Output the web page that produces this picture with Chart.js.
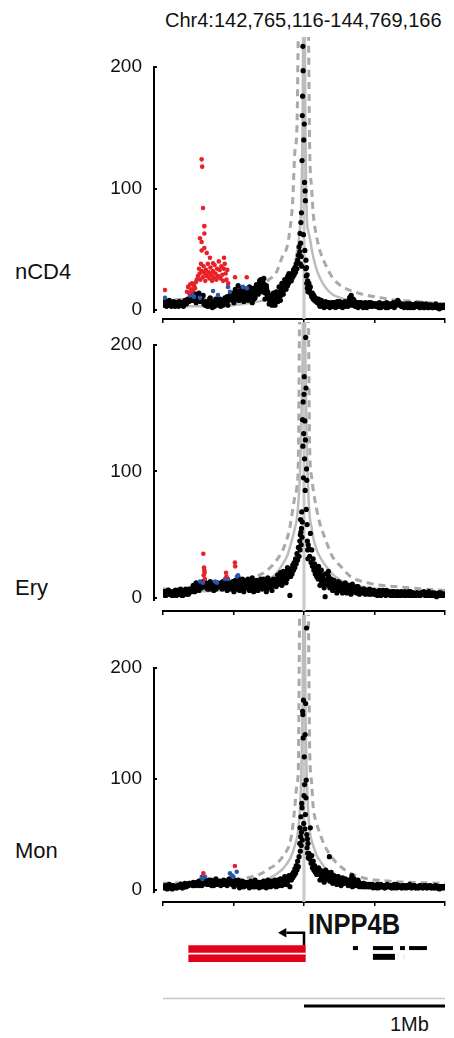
<!DOCTYPE html>
<html>
<head>
<meta charset="utf-8">
<title>INPP4B capture-C profiles</title>
<script src="https://cdn.jsdelivr.net/npm/chart.js@4.4.1/dist/chart.umd.min.js"></script>
<style>
  html, body { margin: 0; padding: 0; background: #fff; }
  body {
    width: 454px; height: 1038px; position: relative; overflow: hidden;
    font-family: "Liberation Sans", Arial, sans-serif; color: #111;
  }
  canvas { position: absolute; left: 0; }
  .txt { position: absolute; white-space: nowrap; line-height: 1; }
</style>
</head>
<body>

<div class="txt" style="left:165px; top:10px; font-size:20px;">Chr4:142,765,116-144,769,166</div>
<div class="txt" style="left:15px; top:261px; font-size:22px;">nCD4</div>
<div class="txt" style="left:15px; top:577px; font-size:22px;">Ery</div>
<div class="txt" style="left:15px; top:840px; font-size:22px;">Mon</div>
<div class="txt" style="left:308px; top:909px; font-size:30px; font-weight:bold; transform:scaleX(0.85); transform-origin:left top;">INPP4B</div>
<div class="txt" style="left:390px; top:1014px; font-size:20px;">1Mb</div>

<canvas id="panel-ncd4" width="454" height="329" style="top:0px"></canvas>
<canvas id="panel-ery" width="454" height="309" style="top:312px"></canvas>
<canvas id="panel-mon" width="454" height="307" style="top:605px"></canvas>
<canvas id="gene-track" width="454" height="133" style="top:905px"></canvas>

<script>
// ---- data (kb relative to the INPP4B viewpoint) ----
const yTickValues = [0, 100, 200];
const xTickStepKb = 500;

// restriction fragment positions shared by all three cell types
const fragmentKb = [
  -1000, -990, -980, -970, -960, -950, -940, -930, -920, -910,
  -900, -890, -880, -870, -860, -850, -840, -830, -820, -810,
  -800, -790, -780, -770, -760, -750, -740, -730, -720, -710,
  -700, -690, -680, -670, -660, -650, -640, -630, -620, -610,
  -600, -590, -580, -570, -560, -550, -540, -530, -520, -510,
  -500, -490, -480, -470, -460, -450, -440, -430, -420, -410,
  -400, -390, -380, -370, -360, -350, -340, -330, -320, -310,
  -300, -290, -280, -270, -260, -250, -240, -230, -220, -210,
  -200, -190, -180, -170, -160, -150, -140, -130, -120, -110,
  -100, -95, -90, -85, -80, -75, -70, -65, -60, -55, -50, -45, -40, -35,
  -30, -28, -26, -24, -22, -20, -18, -16, -14, -12, -10, -8, -6, -4, -2, 0,
  2, 4, 6, 8, 10, 12, 14, 16, 18, 20, 22, 24, 26, 28, 30,
  35, 40, 45, 50, 55, 60, 65, 70, 75, 80, 85, 90, 95, 100,
  110, 120, 130, 140, 150, 160, 170, 180, 190, 200,
  210, 220, 230, 240, 250, 260, 270, 280, 290, 300,
  310, 320, 330, 340, 350, 360, 370, 380, 390, 400,
  410, 420, 430, 440, 450, 460, 470, 480, 490, 500,
  510, 520, 530, 540, 550, 560, 570, 580, 590, 600,
  610, 620, 630, 640, 650, 660, 670, 680, 690, 700,
  710, 720, 730, 740, 750, 760, 770, 780, 790, 800,
  810, 820, 830, 840, 850, 860, 870, 880, 890, 900,
  910, 920, 930, 940, 950, 960, 970, 980, 990, 1000
];

// second set of fragments in the flanks (between the ones above)
const fragmentKbB = [
  -995, -985, -975, -965, -955, -945, -935, -925, -915, -905,
  -895, -885, -875, -865, -855, -845, -835, -825, -815, -805,
  -795, -785, -775, -765, -755, -745, -735, -725, -715, -705,
  -695, -685, -675, -665, -655, -645, -635, -625, -615, -605,
  -595, -585, -575, -565, -555, -545, -535, -525, -515, -505,
  -495, -485, -475, -465, -455, -445, -435, -425, -415, -405,
  -395, -385, -375, -365, -355, -345, -335, -325, -315, -305,
  -295, -285, -275, -265, -255, -245, -235, -225, -215, -205,
  -195, -185, -175, -165, -155, -145, -135, -125, -115, -105,
  105, 115, 125, 135, 145, 155, 165, 175, 185, 195,
  205, 215, 225, 235, 245, 255, 265, 275, 285, 295,
  305, 315, 325, 335, 345, 355, 365, 375, 385, 395,
  405, 415, 425, 435, 445, 455, 465, 475, 485, 495,
  505, 515, 525, 535, 545, 555, 565, 575, 585, 595,
  605, 615, 625, 635, 645, 655, 665, 675, 685, 695,
  705, 715, 725, 735, 745, 755, 765, 775, 785, 795,
  805, 815, 825, 835, 845, 855, 865, 875, 885, 895,
  905, 915, 925, 935, 945, 955, 965, 975, 985, 995
];

// third set, only in the denser region on either side of the peak
const fragmentKbC = [
  -497, -487, -477, -467, -457, -447, -437, -427, -417, -407,
  -397, -387, -377, -367, -357, -347, -337, -327, -317, -307,
  -297, -287, -277, -267, -257, -247, -237, -227, -217, -207,
  -197, -187, -177, -167, -157, -147, -137, -127, -117, -107,
  103, 113, 123, 133, 143, 153, 163, 173, 183, 193,
  203, 213, 223, 233, 243, 253, 263, 273, 283, 293,
  303, 313, 323, 333, 343, 353, 363, 373, 383, 393
];

const nCD4Counts = [
  6, 5, 7, 4, 6, 5, 3, 5, 4, 5,
  4, 3, 5, 4, 6, 5, 7, 6, 8, 9,
  10, 12, 8, 11, 13, 9, 12, 10, 7, 5,
  4, 6, 3, 9, 5, 2, 7, 4, 8, 5,
  6, 3, 8, 5, 10, 7, 4, 9, 12, 8,
  11, 13, 9, 14, 10, 12, 15, 11, 13, 10,
  12, 14, 10, 13, 16, 11, 15, 18, 20, 22,
  24, 19, 21, 16, 12, 9, 7, 10, 6, 8,
  9, 12, 10, 14, 17, 20, 18, 23, 26, 22,
  25, 28, 24, 30, 27, 33, 29, 35, 31, 38, 34, 41, 45, 52,
  48, 63, 38, 55, 72, 44, 80, 36, 123, 160, 176, 217, 197, 62, 140, 240,
  153, 105, 49, 98, 90, 34, 41, 28, 35, 22, 29, 18, 24, 15, 20,
  22, 16, 19, 13, 11, 14, 9, 12, 8, 10, 7, 9, 6, 8,
  5, 6, 4, 5, 4, 3, 5, 4, 5, 6,
  4, 5, 3, 4, 6, 3, 4, 5, 7, 4,
  6, 8, 11, 7, 9, 5, 4, 6, 3, 5,
  4, 2, 5, 3, 4, 6, 3, 3, 5, 4,
  3, 5, 2, 4, 3, 5, 4, 2, 3, 5,
  4, 3, 5, 2, 4, 6, 7, 4, 3, 5,
  2, 4, 3, 5, 2, 3, 4, 2, 5, 3,
  4, 2, 3, 5, 2, 4, 3, 2, 4, 3,
  2, 3, 4, 2, 3, 1, 3, 2, 4, 2
];
const nCD4CountsB = [
  4, 7, 3, 6, 8, 4, 5, 7, 3, 6,
  5, 7, 4, 6, 3, 8, 5, 9, 7, 11,
  8, 14, 11, 6, 10, 14, 7, 9, 12, 6,
  7, 3, 5, 10, 4, 6, 3, 9, 6, 4,
  9, 5, 4, 7, 6, 11, 8, 12, 10, 14,
  9, 15, 12, 8, 16, 13, 9, 12, 17, 14,
  15, 11, 16, 12, 9, 14, 17, 13, 24, 18,
  20, 26, 14, 18, 10, 12, 5, 8, 11, 4,
  11, 7, 15, 12, 19, 16, 22, 20, 28, 24,
  7, 4, 6, 3, 6, 5, 3, 6, 4, 3,
  6, 3, 5, 7, 4, 5, 3, 6, 4, 5,
  4, 7, 9, 12, 6, 8, 6, 3, 5, 4,
  6, 3, 4, 6, 2, 5, 4, 6, 3, 5,
  5, 3, 4, 6, 2, 4, 5, 3, 6, 2,
  3, 5, 4, 6, 3, 5, 8, 6, 4, 3,
  4, 3, 5, 2, 4, 5, 2, 4, 3, 5,
  3, 5, 2, 4, 3, 2, 5, 4, 2, 4,
  4, 2, 3, 5, 2, 3, 4, 2, 3, 3
];
const nCD4CountsC = [
  6, 17, 10, 20, 8, 15, 18, 7, 16, 12,
  8, 19, 13, 6, 18, 10, 21, 14, 17, 25,
  15, 22, 9, 20, 15, 5, 12, 4, 14, 9,
  15, 10, 19, 8, 22, 13, 25, 17, 20, 30,
  9, 3, 8, 5, 2, 7, 4, 6, 2, 5,
  3, 6, 2, 5, 3, 7, 5, 2, 6, 3,
  5, 3, 10, 9, 4, 7, 3, 5, 2, 6
];

const eryCounts = [
  3, 5, 2, 4, 6, 3, 4, 2, 5, 3,
  4, 6, 3, 5, 2, 4, 7, 5, 3, 6,
  5, 8, 6, 9, 7, 10, 8, 11, 9, 12,
  10, 8, 11, 7, 12, 9, 6, 10, 8, 11,
  9, 12, 7, 10, 8, 11, 13, 9, 7, 10,
  12, 8, 11, 9, 13, 10, 7, 12, 9, 11,
  10, 13, 8, 11, 9, 12, 10, 7, 11, 9,
  12, 9, 11, 8, 13, 10, 12, 9, 11, 14,
  12, 15, 11, 14, 17, 13, 16, 19, 15, 18,
  2, 17, 23, 19, 26, 22, 28, 24, 31, 27, 35, 30, 40, 33,
  45, 38, 50, 62, 52, 42, 55, 68, 48, 60, 141, 120, 155, 95, 130, 161,
  175, 110, 140, 85, 125, 206, 166, 70, 102, 93, 58, 45, 38, 31, 42,
  39, 33, 51, 28, 38, 25, 31, 22, 27, 19, 24, 17, 21, 15,
  20, 14, 18, 12, 1, 11, 15, 10, 13, 9,
  12, 8, 11, 7, 10, 9, 6, 10, 7, 9,
  6, 8, 5, 9, 7, 6, 8, 5, 7, 6,
  5, 7, 4, 6, 5, 3, 6, 4, 5, 3,
  4, 2, 5, 3, 4, 6, 3, 2, 4, 5,
  3, 4, 2, 5, 3, 4, 2, 3, 5, 3,
  2, 4, 3, 5, 2, 3, 4, 2, 3, 4,
  3, 2, 4, 3, 5, 2, 3, 4, 2, 3,
  4, 2, 3, 1, 3, 2, 4, 2, 3, 2
];
const eryCountsB = [
  5, 2, 4, 6, 3, 5, 2, 4, 6, 2,
  3, 5, 7, 2, 5, 6, 3, 4, 7, 5,
  7, 10, 5, 12, 9, 6, 11, 8, 13, 9,
  12, 7, 9, 13, 8, 11, 9, 7, 12, 10,
  11, 8, 13, 9, 12, 6, 10, 12, 9, 13,
  9, 13, 7, 10, 12, 8, 11, 14, 10, 8,
  12, 9, 14, 10, 7, 13, 11, 9, 13, 12,
  10, 13, 8, 12, 10, 14, 9, 13, 10, 12,
  14, 11, 17, 13, 15, 18, 14, 21, 17, 22,
  17, 22, 13, 16, 10, 14, 12, 17, 11, 14,
  10, 13, 8, 11, 6, 12, 8, 7, 11, 6,
  9, 5, 7, 10, 5, 8, 6, 9, 4, 7,
  6, 4, 7, 3, 6, 5, 7, 3, 5, 6,
  3, 5, 4, 6, 2, 4, 5, 3, 6, 3,
  4, 2, 5, 3, 4, 2, 5, 4, 2, 4,
  3, 5, 2, 4, 3, 5, 2, 4, 3, 2,
  4, 3, 2, 4, 3, 4, 2, 3, 5, 2,
  2, 3, 4, 2, 3, 4, 2, 3, 2, 3
];
const eryCountsC = [
  5, 14, 9, 16, 6, 11, 15, 5, 13, 8,
  15, 6, 12, 16, 5, 10, 14, 6, 9, 15,
  7, 15, 10, 5, 16, 8, 13, 6, 15, 10,
  9, 18, 13, 20, 10, 21, 16, 12, 24, 20,
  25, 10, 22, 16, 8, 19, 12, 21, 8, 15,
  6, 14, 10, 4, 13, 7, 11, 4, 8, 12,
  4, 10, 7, 3, 11, 5, 8, 4, 9, 3
];

const monCounts = [
  3, 2, 4, 1, 3, 2, 4, 3, 2, 3,
  2, 4, 3, 5, 2, 4, 3, 5, 4, 6,
  5, 4, 6, 5, 7, 4, 8, 6, 5, 7,
  6, 8, 5, 7, 9, 6, 4, 7, 5, 8,
  6, 4, 7, 9, 5, 8, 6, 10, 7, 5,
  7, 9, 5, 6, 4, 7, 5, 3, 6, 4,
  5, 3, 6, 4, 7, 5, 3, 6, 4, 5,
  4, 6, 3, 5, 7, 4, 6, 5, 8, 6,
  5, 7, 4, 6, 8, 5, 9, 7, 6, 10,
  3, 12, 9, 14, 11, 16, 13, 19, 15, 22, 18, 26, 21, 30,
  42, 56, 35, 48, 66, 40, 52, 78, 74, 45, 161, 158, 137, 171, 60, 85,
  120, 95, 55, 140, 68, 168, 83, 99, 236, 50, 38, 46, 33, 42, 29,
  33, 28, 56, 24, 31, 20, 26, 18, 22, 16, 20, 14, 18, 15,
  17, 13, 16, 11, 15, 12, 14, 30, 10, 12,
  9, 11, 8, 12, 7, 10, 8, 6, 9, 7,
  6, 8, 5, 13, 7, 5, 6, 4, 7, 5,
  4, 6, 3, 5, 4, 3, 5, 4, 2, 4,
  3, 5, 2, 4, 3, 4, 2, 3, 5, 3,
  4, 2, 3, 5, 3, 2, 4, 3, 2, 4,
  3, 4, 2, 3, 5, 2, 3, 4, 2, 3,
  2, 4, 3, 2, 4, 3, 2, 3, 4, 2,
  3, 2, 4, 2, 3, 1, 3, 2, 3, 2
];
const monCountsB = [
  2, 4, 3, 2, 5, 3, 1, 4, 3, 2,
  4, 3, 5, 2, 4, 6, 3, 4, 6, 5,
  6, 7, 4, 6, 5, 8, 6, 4, 7, 9,
  7, 5, 9, 6, 4, 8, 7, 10, 6, 7,
  8, 6, 5, 8, 7, 4, 9, 6, 8, 7,
  5, 8, 6, 4, 7, 6, 4, 7, 5, 6,
  4, 6, 5, 7, 3, 6, 5, 4, 7, 4,
  6, 4, 7, 5, 4, 6, 8, 4, 6, 7,
  7, 4, 8, 6, 5, 9, 6, 8, 11, 9,
  14, 18, 12, 15, 9, 13, 16, 11, 14, 10,
  12, 8, 10, 7, 11, 6, 9, 10, 7, 8,
  7, 5, 9, 6, 8, 10, 5, 7, 5, 6,
  5, 3, 6, 4, 3, 5, 3, 4, 5, 3,
  4, 2, 4, 3, 5, 3, 4, 2, 4, 3,
  3, 4, 2, 4, 2, 5, 3, 4, 3, 2,
  4, 2, 3, 4, 3, 4, 2, 3, 4, 2,
  3, 2, 4, 3, 2, 3, 4, 2, 3, 4,
  2, 3, 2, 4, 2, 3, 2, 3, 2, 3
];
const monCountsC = [
  3, 8, 5, 9, 2, 6, 8, 3, 7, 5,
  7, 2, 8, 5, 3, 9, 4, 7, 2, 6,
  3, 8, 5, 2, 9, 6, 3, 7, 4, 9,
  3, 9, 6, 10, 4, 7, 12, 5, 8, 13,
  20, 9, 17, 13, 7, 18, 10, 15, 8, 16,
  6, 13, 9, 5, 12, 8, 4, 11, 6, 10,
  9, 4, 7, 10, 3, 8, 4, 6, 9, 3
];

// significant interactions (red) and borderline ones (blue)
const nCD4RedKb = [-986, -830, -822, -815, -808, -800, -794, -787, -780, -773, -766, -760, -752, -745, -740, -738,
  -735, -731, -726, -726, -726, -724, -722, -718, -716, -712, -707, -707, -707, -705, -700, -695, -690, -688,
  -682, -676, -670, -667, -664, -658, -652, -646, -645, -640, -634, -628, -622, -616, -610, -604, -598, -592,
  -586, -580, -574, -568, -567, -562, -556, -550, -544, -538, -489, -406];
const nCD4RedVal = [16.5, 15, 19, 14, 21, 17, 22, 16, 20, 18, 23, 25, 28, 34, 30, 59,
  25, 38, 124, 56, 49, 32, 118, 27, 84, 36, 69, 63, 51, 30, 24, 33, 47, 28,
  38, 31, 26, 43, 35, 29, 24, 32, 38.5, 27, 37, 30, 25, 34, 28, 40, 33, 26,
  36, 29, 24, 34, 43, 38, 30, 25, 33, 22, 27, 27];
const nCD4BlueKb = [-986, -808, -794, -780, -738, -645, -610, -539, -525, -433, -406];
const nCD4BlueVal = [10, 12, 13, 11, 10, 15.6, 12.3, 19, 15, 19, 18];

const eryRedKb = [-714, -711, -709, -707, -705, -703, -553, -550, -490, -488];
const eryRedVal = [35, 18, 24, 22, 20, 15, 20, 17, 28, 25];
const eryBlueKb = [-738, -716, -631, -617, -560, -539, -475, -468];
const eryBlueVal = [13, 12, 13, 12, 15, 15, 17, 18];

const monRedKb = [-714, -490];
const monRedVal = [15, 21.6];
const monBlueKb = [-725, -720, -702, -525, -510, -501, -477];
const monBlueVal = [12, 10, 12, 15, 13, 12, 16.5];

// background model: expected (solid) and threshold (dashed)
const curveKb = [-1000, -800, -600, -500, -400, -300, -250, -200, -150, -120,
  -100, -80, -65, -50, -40, -30, -20, -10, 0,
  10, 20, 30, 40, 55, 65, 90, 115, 150,
  200, 260, 330, 450, 550, 650, 750, 850, 1000];

const nCD4Expected = [3, 3, 3.5, 4, 5.5, 7.5, 9, 11, 16, 21,
  25, 31, 38, 48, 55, 65, 85, 150, 320,
  150, 77, 65, 60, 50, 44, 33, 26, 19,
  13, 10, 8, 6.5, 6, 5.5, 5, 4.5, 4];
const nCD4Threshold = [8, 9, 10, 12, 14, 20, 25, 30, 45, 52,
  66, 90, 130, 150, 230, 260, 280, 300, 320,
  300, 280, 250, 135, 99, 80, 60, 48, 38,
  27, 20, 16, 12, 10, 8, 7.5, 6.5, 4.5];

const eryExpected = [4, 5, 6, 7, 9, 12, 15, 19, 27, 33,
  40, 48, 55, 63, 75, 95, 130, 190, 300,
  190, 120, 85, 65, 55, 48, 38, 32, 26,
  19, 14, 11, 8, 7, 6, 5, 5, 4];
const eryThreshold = [7, 8, 11, 13, 15, 19, 23, 29, 38, 47,
  56, 70, 80, 88, 110, 240, 270, 290, 300,
  290, 270, 240, 120, 95, 86, 70, 58, 47,
  33, 25, 17, 12, 10, 9, 8, 7, 6];

const monExpected = [3, 3.5, 4, 5, 6, 8, 10.5, 14, 19, 24,
  28, 34, 40, 47, 55, 70, 100, 170, 320,
  170, 100, 70, 54, 44, 40, 31, 26, 20,
  15, 11, 8.5, 6, 5, 4.5, 4, 4, 3.5];
const monThreshold = [6, 7, 8, 9, 11, 15, 19, 23, 30, 36,
  42, 57, 75, 95, 110, 260, 280, 300, 310,
  300, 280, 260, 130, 95, 75, 60, 50, 39,
  29, 21, 15, 10, 8.5, 7.5, 7, 6.5, 6];

// gene track
const viewpointKb = 0;
const inpp4bStartKb = [-820, -820];
const inpp4bEndKb = [12, 12];
const neighbourRow1Kb = [[347, 383], [489, 631], [681, 716], [745, 872]];
const neighbourRow2Kb = [[489, 645]];
const neighbourFaintKb = [[665, 669], [707, 711]];
const scaleBarKb = [0, 1000];

// ---- drawing ----
const FONT = '"Liberation Sans", Arial, sans-serif';
const X_MIN = -1000;
const X_MAX = 1000;

function toPoints(xs, ys) {
  return xs.map((x, i) => ({ x: x, y: ys[i] }));
}

// y axis line sits a little left of the plot, from 0 up to the top tick
const yAxisLinePlugin = {
  id: 'yAxisLine',
  afterDraw(chart) {
    const ctx = chart.ctx;
    const y = chart.scales.y;
    const x = chart.chartArea.left - 9;
    const top = y.getPixelForValue(yTickValues[yTickValues.length - 1]) - 1;
    const bottom = y.getPixelForValue(0) + 3;
    ctx.save();
    ctx.strokeStyle = '#000';
    ctx.lineWidth = 2;
    ctx.beginPath();
    ctx.moveTo(x, top);
    ctx.lineTo(x, bottom);
    yTickValues.forEach(function(v) {
      const py = Math.round(y.getPixelForValue(v));
      ctx.moveTo(x, py);
      ctx.lineTo(x + 3, py);
    });
    ctx.stroke();
    ctx.restore();
  }
};

function buildPanel(canvasId, p) {
  const ctx = document.getElementById(canvasId).getContext('2d');
  const counts = toPoints(fragmentKb, p.counts)
    .concat(toPoints(fragmentKbB, p.countsB))
    .concat(toPoints(fragmentKbC, p.countsC));
  return new Chart(ctx, {
    type: 'scatter',
    data: {
      datasets: [
        {
          label: 'significant',
          data: toPoints(p.redKb, p.redVal),
          backgroundColor: 'rgb(232, 32, 40)',
          pointRadius: 2.3,
          borderWidth: 0
        },
        {
          label: 'borderline',
          data: toPoints(p.blueKb, p.blueVal),
          backgroundColor: 'rgb(44, 86, 170)',
          pointRadius: 2.3,
          borderWidth: 0
        },
        {
          label: 'counts',
          data: counts,
          backgroundColor: '#000',
          pointRadius: 2.6,
          borderWidth: 0
        },
        {
          label: 'expected',
          data: toPoints(curveKb, p.expected),
          showLine: true,
          borderColor: '#bcbcbc',
          borderWidth: 2.5,
          pointRadius: 0,
          cubicInterpolationMode: 'monotone'
        },
        {
          label: 'threshold',
          data: toPoints(curveKb, p.threshold),
          showLine: true,
          borderColor: '#a9a9a9',
          borderWidth: 3,
          borderDash: [7, 5],
          pointRadius: 0,
          cubicInterpolationMode: 'monotone'
        },
        {
          label: 'viewpoint',
          data: [{ x: viewpointKb, y: p.yMin }, { x: viewpointKb, y: p.yMax }],
          showLine: true,
          borderColor: '#c9c9c9',
          borderWidth: 3,
          pointRadius: 0
        }
      ]
    },
    options: {
      responsive: false,
      animation: false,
      devicePixelRatio: 1,
      events: [],
      layout: { padding: { left: 103, right: 9, top: p.padTop, bottom: 0 } },
      plugins: {
        legend: { display: false },
        tooltip: { enabled: false }
      },
      scales: {
        x: {
          type: 'linear',
          min: X_MIN,
          max: X_MAX,
          ticks: { display: false, stepSize: xTickStepKb },
          grid: { drawOnChartArea: false, drawTicks: true, tickLength: 4, color: '#000', lineWidth: 1.5 },
          border: { display: true, color: '#000', width: 2 },
          afterFit: function(s) { s.height = 10; }
        },
        y: {
          type: 'linear',
          min: p.yMin,
          max: p.yMax,
          afterBuildTicks: function(s) { s.ticks = yTickValues.map(v => ({ value: v })); },
          ticks: { padding: 21, color: '#111', font: { family: FONT, size: 19 } },
          grid: { display: false, drawTicks: false },
          border: { display: false },
          afterFit: function(s) { s.width = 60; s.paddingTop = 0; s.paddingBottom = 0; }
        }
      }
    },
    plugins: [yAxisLinePlugin]
  });
}

buildPanel('panel-ncd4', {
  counts: nCD4Counts, countsB: nCD4CountsB, countsC: nCD4CountsC,
  redKb: nCD4RedKb, redVal: nCD4RedVal, blueKb: nCD4BlueKb, blueVal: nCD4BlueVal,
  expected: nCD4Expected, threshold: nCD4Threshold, yMin: -7.4, yMax: 224.7, padTop: 37
});
buildPanel('panel-ery', {
  counts: eryCounts, countsB: eryCountsB, countsC: eryCountsC,
  redKb: eryRedKb, redVal: eryRedVal, blueKb: eryBlueKb, blueVal: eryBlueVal,
  expected: eryExpected, threshold: eryThreshold, yMin: -10.3, yMax: 218.2, padTop: 10
});
buildPanel('panel-mon', {
  counts: monCounts, countsB: monCountsB, countsC: monCountsC,
  redKb: monRedKb, redVal: monRedVal, blueKb: monBlueKb, blueVal: monBlueVal,
  expected: monExpected, threshold: monThreshold, yMin: -10.8, yMax: 247.7, padTop: 10
});

// Gene track: transcripts, TSS arrow and scale bar on the same kb axis
(function buildGeneTrack() {
  const arrowRow = 1.83;
  const arrowBaseRow = 2.86;
  const transcriptRows = [3.16, 3.91];
  const neighbourRows = [3.08, 3.8];
  const genomeRow = 7.22;
  const scaleRow = 7.82;
  const arrowLengthKb = 125;

  function segment(x0, x1, row, color, width) {
    return {
      data: [{ x: x0, y: row }, { x: x1, y: row }],
      showLine: true, borderColor: color, borderWidth: width,
      borderCapStyle: 'butt', pointRadius: 0, clip: false
    };
  }

  const datasets = [];
  inpp4bStartKb.forEach(function(s, i) {
    datasets.push(segment(s, inpp4bEndKb[i], transcriptRows[i], '#e3001b', 7.5));
  });
  neighbourRow1Kb.forEach(function(s) { datasets.push(segment(s[0], s[1], neighbourRows[0], '#000', 4)); });
  neighbourRow2Kb.forEach(function(s) { datasets.push(segment(s[0], s[1], neighbourRows[1], '#000', 6)); });
  neighbourFaintKb.forEach(function(s) { datasets.push(segment(s[0], s[1], neighbourRows[1], '#d0d0d0', 6)); });

  // TSS arrow (INPP4B is on the minus strand)
  datasets.push({
    data: [
      { x: viewpointKb, y: arrowBaseRow },
      { x: viewpointKb, y: arrowRow },
      { x: viewpointKb - arrowLengthKb, y: arrowRow }
    ],
    showLine: true, borderColor: '#000', borderWidth: 2.5, borderJoinStyle: 'miter',
    pointRadius: 0, clip: false
  });
  datasets.push({
    data: [{ x: viewpointKb - arrowLengthKb - 20, y: arrowRow }],
    pointStyle: 'triangle', rotation: 270, pointRadius: 5.5,
    backgroundColor: '#000', borderWidth: 0, clip: false
  });

  datasets.push(segment(X_MIN, X_MAX, genomeRow, '#c8c8c8', 1.5));
  datasets.push(segment(scaleBarKb[0], scaleBarKb[1], scaleRow, '#000', 3));

  new Chart(document.getElementById('gene-track').getContext('2d'), {
    type: 'scatter',
    data: { datasets: datasets },
    options: {
      responsive: false,
      animation: false,
      devicePixelRatio: 1,
      events: [],
      layout: { padding: { left: 163, right: 9, top: 0, bottom: 0 } },
      plugins: { legend: { display: false }, tooltip: { enabled: false } },
      scales: {
        x: { type: 'linear', min: X_MIN, max: X_MAX, display: false },
        y: { type: 'linear', min: 0, max: 10, reverse: true, display: false }
      }
    }
  });
})();
</script>
</body>
</html>
